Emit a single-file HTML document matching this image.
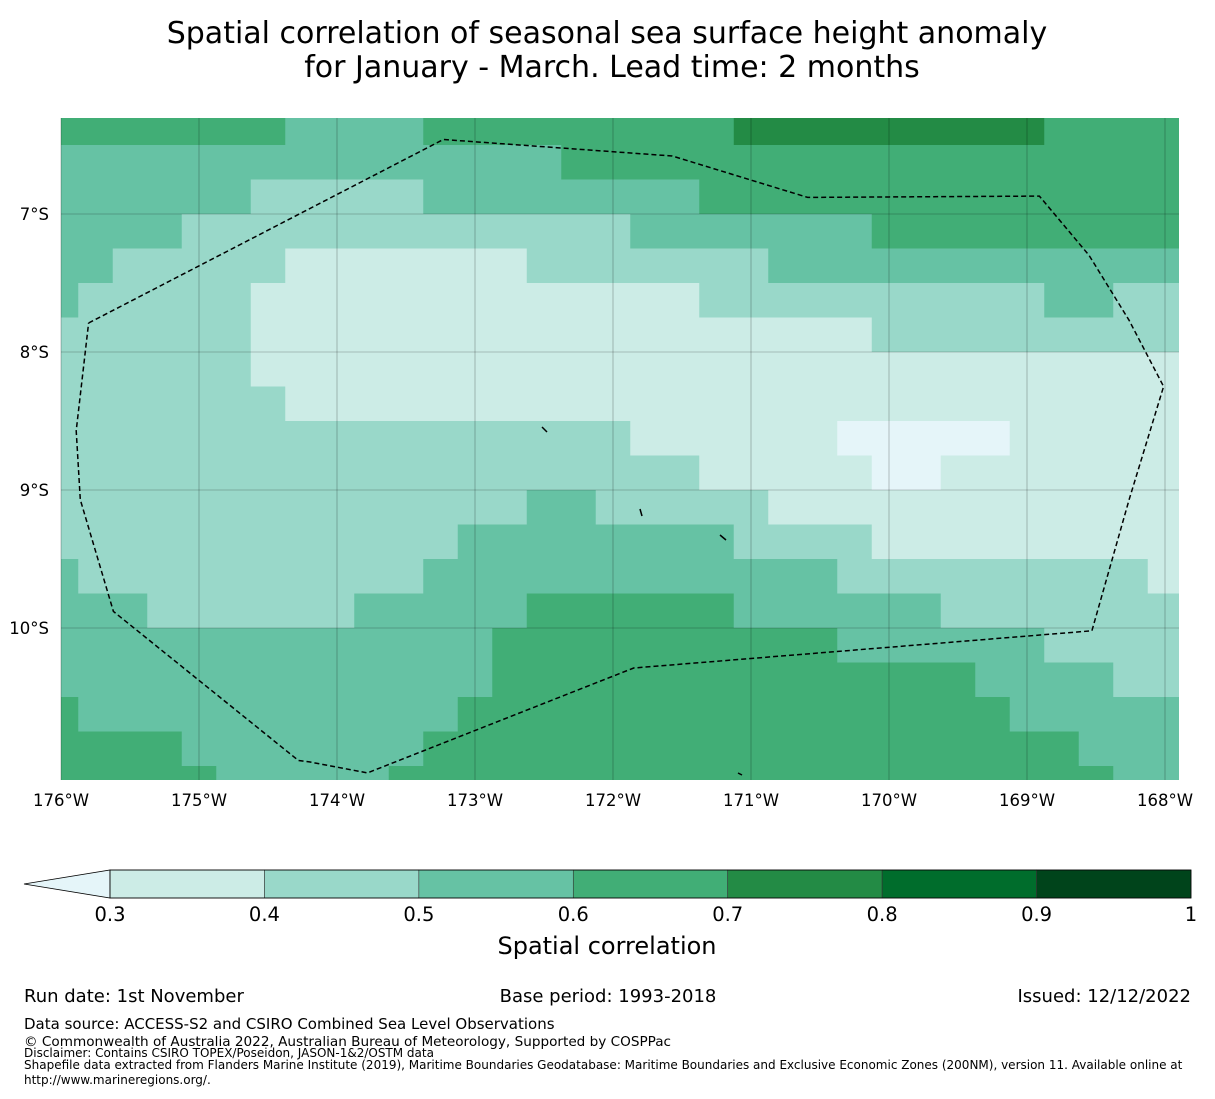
<!DOCTYPE html>
<html><head><meta charset="utf-8">
<style>
body{margin:0;background:#fff;width:1215px;height:1095px;overflow:hidden;font-family:"DejaVu Sans","Liberation Sans",sans-serif;}
svg text{font-family:"DejaVu Sans","Liberation Sans",sans-serif;}
</style></head>
<body>
<svg id="chart" width="1215" height="1095">
<text x="607" y="43" text-anchor="middle" font-size="30">Spatial correlation of seasonal sea surface height anomaly</text>
<text x="612" y="77" text-anchor="middle" font-size="30">for January - March. Lead time: 2 months</text>
<g id="map"></g>
<g id="cbar"></g>
<text x="607" y="954" text-anchor="middle" font-size="24">Spatial correlation</text>
<text x="24" y="1002" font-size="18">Run date: 1st November</text>
<text x="608" y="1002" text-anchor="middle" font-size="18">Base period: 1993-2018</text>
<text x="1191" y="1002" text-anchor="end" font-size="18">Issued: 12/12/2022</text>
<text x="24" y="1029" font-size="15">Data source: ACCESS-S2 and CSIRO Combined Sea Level Observations</text>
<text x="24" y="1046" font-size="13.6">© Commonwealth of Australia 2022, Australian Bureau of Meteorology, Supported by COSPPac</text>
<text x="24" y="1057" font-size="12">Disclaimer: Contains CSIRO TOPEX/Poseidon, JASON-1&amp;2/OSTM data</text>
<text x="24" y="1069" font-size="12">Shapefile data extracted from Flanders Marine Institute (2019), Maritime Boundaries Geodatabase: Maritime Boundaries and Exclusive Economic Zones (200NM), version 11. Available online at</text>
<text x="24" y="1084" font-size="12">http://www.marineregions.org/.</text>
</svg>
<script>
// level bins: digit d = correlation bin [d/10, d/10+0.1)
const levelBounds = [0.3,0.4,0.5,0.6,0.7,0.8,0.9,1];
const levelColors = ["#e5f5f9","#ccece6","#99d8c9","#66c2a4","#41ae76","#238b45","#006d2c","#00441b"];
const xTicks = [-176,-175,-174,-173,-172,-171,-170,-169,-168];
const xTickLabels = ["176°W","175°W","174°W","173°W","172°W","171°W","170°W","169°W","168°W"];
const yTicks = [-7,-8,-9,-10];
const yTickLabels = ["7°S","8°S","9°S","10°S"];
// grid: 0.25° cells; column centres lon0 + 0.25*k, row centres lat0 - 0.25*r (run-length [bin,count])
const lon0 = -176, lat0 = -6.375;
const rows = [
 [[6,7],[5,4],[6,9],[7,9],[6,4]],
 [[5,15],[6,18]],
 [[5,6],[4,5],[5,8],[6,14]],
 [[5,4],[4,13],[5,7],[6,9]],
 [[5,2],[4,5],[3,7],[4,7],[5,12]],
 [[5,1],[4,5],[3,13],[4,10],[5,2],[4,2]],
 [[4,6],[3,18],[4,9]],
 [[4,6],[3,27]],
 [[4,7],[3,26]],
 [[4,17],[3,6],[2,5],[3,5]],
 [[4,19],[3,5],[2,2],[3,7]],
 [[4,14],[5,2],[4,5],[3,12]],
 [[4,12],[5,8],[4,4],[3,9]],
 [[5,1],[4,10],[5,12],[4,9],[3,1]],
 [[5,3],[4,6],[5,5],[6,6],[5,6],[4,7]],
 [[5,13],[6,10],[5,6],[4,4]],
 [[5,13],[6,14],[5,4],[4,2]],
 [[6,1],[5,11],[6,16],[5,5]],
 [[6,4],[5,7],[6,19],[5,3]],
 [[6,5],[5,5],[6,21],[5,2]]
];
// EEZ boundary (lon, lat)
const eezLon = [-175.80,-173.23,-171.57,-170.59,-168.91,-168.55,-168.26,-168.01,-168.26,-168.53,-171.85,-173.78,-174.20,-174.28,-175.62,-175.86,-175.89,-175.80];
const eezLat = [-7.79,-6.46,-6.58,-6.88,-6.87,-7.30,-7.77,-8.25,-9.07,-10.02,-10.29,-11.05,-10.97,-10.96,-9.88,-9.07,-8.57,-7.79];

const NS="http://www.w3.org/2000/svg";
const X0=61,X1=1179,Y0=118,Y1=780;
const xS=lon=>61+(lon+176)*138;
const yS=lat=>214-(lat+7)*138;
function mk(tag,attrs,parent){const e=document.createElementNS(NS,tag);for(const k in attrs)e.setAttribute(k,attrs[k]);parent.appendChild(e);return e;}
const map=document.getElementById('map');
const defs=mk('defs',{},map);
const cp=mk('clipPath',{id:'mc'},defs);
mk('rect',{x:X0,y:Y0,width:X1-X0,height:Y1-Y0},cp);
const cells=mk('g',{'clip-path':'url(#mc)'},map);
rows.forEach((runs,r)=>{
  let c=0;
  runs.forEach(([bin,n])=>{
    const lonA=lon0+0.25*c-0.125, lonB=lon0+0.25*(c+n)-0.125;
    const latT=lat0-0.25*r+0.125, latB=lat0-0.25*r-0.125;
    const el=mk('rect',{x:xS(lonA),y:yS(latT),width:xS(lonB)-xS(lonA)+0.6,height:yS(latB)-yS(latT)+0.6,fill:levelColors[bin-2]},cells);
    
    
    c+=n;
  });
});
xTicks.forEach((v,i)=>{
  const x=xS(v);
  const l=mk('line',{x1:x,x2:x,y1:Y0,y2:Y1,stroke:'#000','stroke-opacity':0.4,'stroke-width':0.6},map);
  
  
  const t=mk('text',{x:x,y:806,'text-anchor':'middle','font-size':16.5},map);
  t.textContent=xTickLabels[i];
  
  
});
yTicks.forEach((v,i)=>{
  const y=yS(v);
  const l=mk('line',{x1:X0,x2:X1,y1:y,y2:y,stroke:'#000','stroke-opacity':0.4,'stroke-width':0.6},map);
  
  
  const t=mk('text',{x:49,y:y+6,'text-anchor':'end','font-size':16.5},map);
  t.textContent=yTickLabels[i];
  
  
});
const pts=eezLon.map((lo,i)=>xS(lo).toFixed(1)+','+yS(eezLat[i]).toFixed(1)).join(' ');
const eez=mk('polyline',{points:pts,fill:'none',stroke:'#000','stroke-width':1.5,'stroke-dasharray':'5,3'},map);


[[542,427,547,432],[640,509,642,516],[720,535,726,540],[738,773,742,775]].forEach(s=>{
  const e=mk('line',{x1:s[0],y1:s[1],x2:s[2],y2:s[3],stroke:'#000','stroke-width':1.5},map);
  
  
});
const cb=document.getElementById('cbar');
const cbX0=110,cbX1=1191,cbY0=870,cbY1=898;
const cbx=v=>cbX0+(v-0.3)/(1-0.3)*(cbX1-cbX0);
const tri=mk('polygon',{points:`24,884 ${cbX0},${cbY0} ${cbX0},${cbY1}`,fill:levelColors[0],stroke:'#000','stroke-width':0.8},cb);


for(let i=0;i<levelBounds.length-1;i++){
  const r=mk('rect',{x:cbx(levelBounds[i]),y:cbY0,width:cbx(levelBounds[i+1])-cbx(levelBounds[i]),height:cbY1-cbY0,fill:levelColors[i+1],stroke:'#333','stroke-width':0.6},cb);
  
  
}
mk('rect',{x:cbX0,y:cbY0,width:cbX1-cbX0,height:cbY1-cbY0,fill:'none',stroke:'#000','stroke-width':0.8},cb);
levelBounds.forEach(v=>{
  const t=mk('text',{x:cbx(v),y:921,'text-anchor':'middle','font-size':19.5},cb);
  t.textContent=v===1?'1':v.toFixed(1);
  
  
});
</script>
</body></html>
